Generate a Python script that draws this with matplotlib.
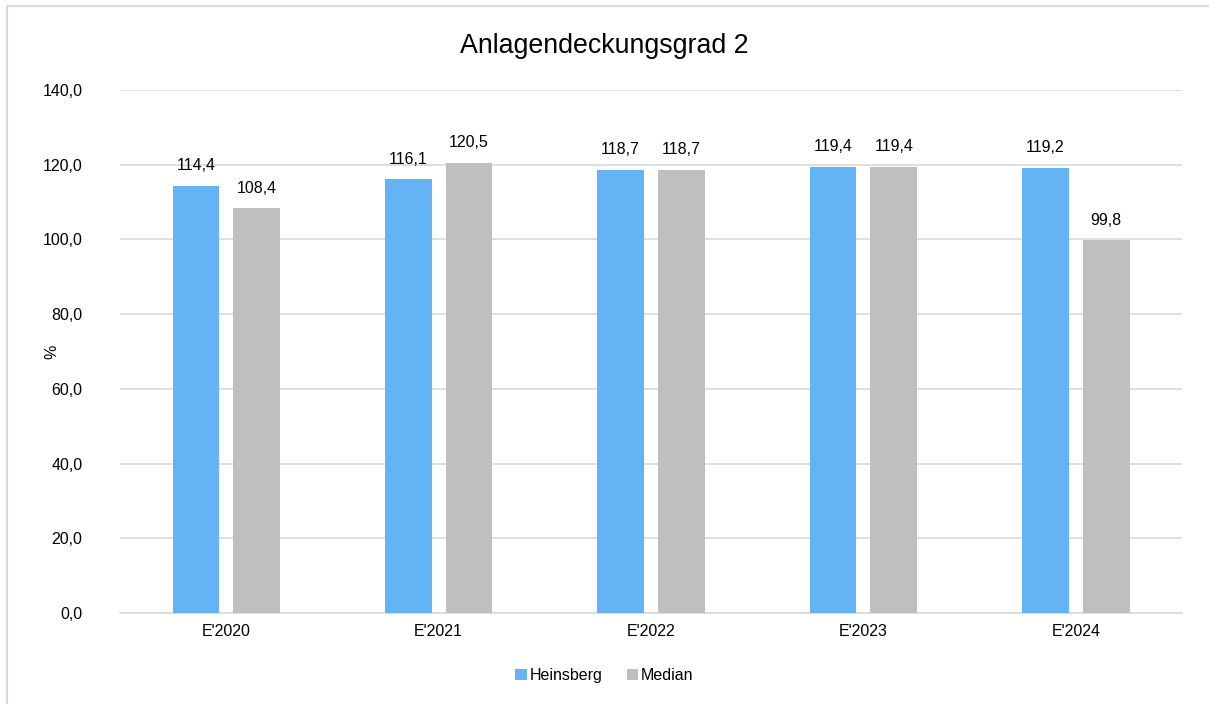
import matplotlib.pyplot as plt
import numpy as np
from matplotlib.patches import Rectangle

plt.rcParams['font.family'] = ['Liberation Sans', 'DejaVu Sans']

jahre = ["E'2020", "E'2021", "E'2022", "E'2023", "E'2024"]
heinsberg = [114.4, 116.1, 118.7, 119.4, 119.2]
median = [108.4, 120.5, 118.7, 119.4, 99.8]

fig = plt.figure(figsize=(12.09, 7.04), dpi=100)
ax = fig.add_axes([0.0993, 0.1293, 0.8784, 0.7429])

# Rahmen um das Diagramm
fig.patches.append(Rectangle((7 / 1209, -0.05), 1.1, 0.05 + 1 - 6 / 704,
                             transform=fig.transFigure, fill=False,
                             edgecolor='#D9D9D9', linewidth=1.5))

x = np.arange(len(jahre))
w = 0.22
b1 = ax.bar(x - 0.143, heinsberg, w, color='#63B3F5', label='Heinsberg', zorder=3)
b2 = ax.bar(x + 0.143, median, w, color='#BFBFBF', label='Median', zorder=3)

fmt = lambda v: f'{v:.1f}'.replace('.', ',')
for bars, vals in [(b1, heinsberg), (b2, median)]:
    for r, v in zip(bars, vals):
        ax.annotate(fmt(v), (r.get_x() + r.get_width() / 2, v),
                    xytext=(0, 9), textcoords='offset points',
                    ha='center', va='bottom', fontsize=11.5, color='#000000')

ax.set_xlim(-0.5, len(jahre) - 0.5)
ax.set_ylim(0, 140)
ax.set_yticks(np.arange(0, 141, 20))
ax.set_yticklabels([fmt(t) for t in np.arange(0, 141, 20)], fontsize=11.5)
ax.set_xticks(x)
ax.set_xticklabels(jahre, fontsize=11.5)
ax.tick_params(length=0, pad=8)
ax.tick_params(axis='y', pad=27)

ax.grid(axis='y', color='#D9D9D9', linewidth=1.2, zorder=0)
for s in ['top', 'right', 'left']:
    ax.spines[s].set_visible(False)
ax.spines['bottom'].set_color('#D9D9D9')
ax.spines['bottom'].set_linewidth(1.2)

ax.set_ylabel('%', fontsize=11.5)
ax.yaxis.set_label_coords(-0.057, 0.5)
fig.text(0.5, 0.935, 'Anlagendeckungsgrad 2', ha='center', va='center', fontsize=19.3)

fig.legend(handles=[b1, b2], loc='center', bbox_to_anchor=(0.5, 0.04), ncol=2,
           frameon=False, fontsize=11.5, handlelength=0.7, handleheight=0.7,
           handletextpad=0.2, columnspacing=1.5)

fig.savefig('out.png', dpi=100)
